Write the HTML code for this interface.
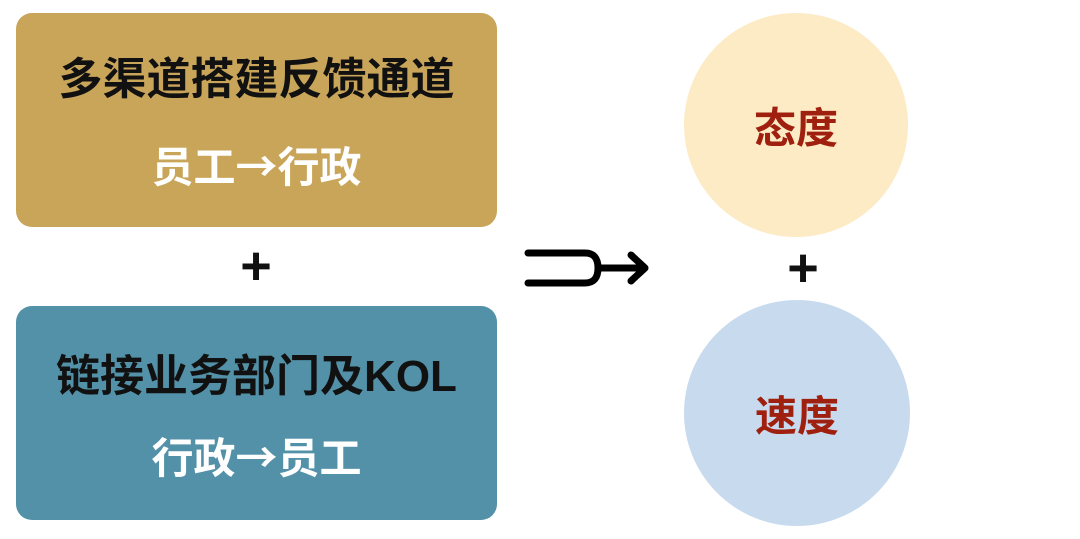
<!DOCTYPE html>
<html><head><meta charset="utf-8"><style>
body{margin:0;width:1080px;height:539px;background:#fff;position:relative;overflow:hidden;font-family:"Liberation Sans","Noto Sans CJK SC",sans-serif;font-weight:bold}
.box{position:absolute;left:16px;width:481px;height:214px;border-radius:16px;text-align:center}
.t1{position:absolute;width:100%;font-size:44px;line-height:50px;color:#111}
.t2{position:absolute;width:100%;font-size:42px;line-height:50px;color:#fff}
.ar{font-family:"Noto Sans CJK SC",sans-serif}
.c{position:absolute;border-radius:50%;display:flex;align-items:center;justify-content:center;font-size:42px;color:#a0200f}
.plus{position:absolute;font-size:54px;line-height:60px;color:#111;width:40px;text-align:center}
</style></head><body>
<div class="box" style="top:13px;background:#c9a559"><div class="t1" style="top:42px">多渠道搭建反馈通道</div><div class="t2" style="top:127px">员工<span class="ar">→</span>行政</div></div>
<div class="box" style="top:306px;background:#5291a8"><div class="t1" style="top:46px">链接业务部门及KOL</div><div class="t2" style="top:125px">行政<span class="ar">→</span>员工</div></div>
<div class="plus" style="left:236px;top:236px">+</div>
<div class="plus" style="left:783px;top:238px">+</div>
<div class="c" style="left:684px;top:13px;width:224px;height:224px;background:#fcebc4">态度</div>
<div class="c" style="left:684px;top:300px;width:226px;height:226px;background:#c8daee">速度</div>
<svg style="position:absolute;left:0;top:0" width="1080" height="539">
<path d="M528 253 H585 Q598 253 598 268 Q598 283 585 283 H528" fill="none" stroke="#000" stroke-width="7" stroke-linecap="round"/>
<path d="M598 268 H643 M631 255 L645 268 L631 281" fill="none" stroke="#000" stroke-width="7" stroke-linecap="round" stroke-linejoin="round"/>
</svg>
</body></html>
